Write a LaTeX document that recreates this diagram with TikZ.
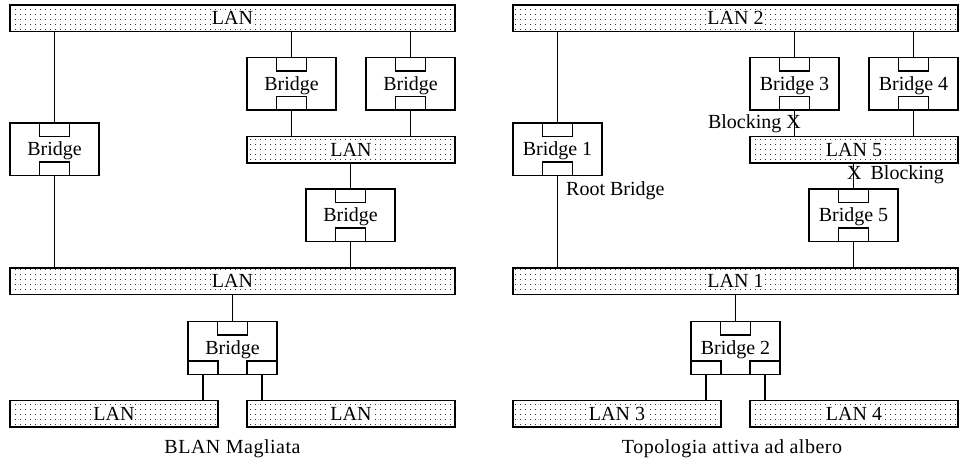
\documentclass[tikz,border=0pt]{standalone}
\usepackage{fontspec}
\setmainfont{Liberation Serif}
\usetikzlibrary{patterns}
\pgfdeclarepatternformonly{landots}{\pgfqpoint{-1pt}{-1pt}}{\pgfqpoint{6pt}{6pt}}{\pgfqpoint{5pt}{5pt}}{\pgfpathrectangle{\pgfqpoint{0pt}{0pt}}{\pgfqpoint{1.4pt}{1.4pt}}\pgfusepath{fill}}
\tikzset{
  lan/.style={draw, line width=1.5pt, pattern=landots, pattern color=black!80, minimum height=26.5pt, inner sep=0pt},
  lantext/.style={fill=white, inner sep=0.8pt, text height=13pt, text depth=0pt},
  bridge/.style={draw, line width=1.5pt, fill=white, minimum width=89pt, minimum height=52.5pt, inner sep=0pt, text height=13pt, text depth=0pt},
  port/.style={draw, line width=1.5pt, minimum width=30pt, minimum height=13.5pt, inner sep=0pt},
  wire/.style={line width=1.5pt},
  caption/.style={inner sep=0pt, anchor=base, font=\fontsize{20}{24}\selectfont\addfontfeature{LetterSpace=2.5}},
  note/.style={inner sep=0pt},
}
\begin{document}
\begin{tikzpicture}[x=1pt, y=-1pt, font=\fontsize{20}{24}\selectfont]
\useasboundingbox (0,0) rectangle (970,465);
% ---------------- left: BLAN Magliata ----------------
\node[lan, minimum width=445pt] (lanT) at (232.5,18.25) {};
\node[lantext] (lanTl) at (lanT) {LAN};
\node[bridge] (bL) at (54.5,149.5) {Bridge};
\node[port, anchor=north] (bLt) at (bL.north) {};
\node[port, anchor=south] (bLb) at (bL.south) {};
\node[bridge] (bA) at (291.5,84) {Bridge};
\node[port, anchor=north] (bAt) at (bA.north) {};
\node[port, anchor=south] (bAb) at (bA.south) {};
\node[bridge] (bB) at (410.5,84) {Bridge};
\node[port, anchor=north] (bBt) at (bB.north) {};
\node[port, anchor=south] (bBb) at (bB.south) {};
\node[lan, minimum width=208pt] (lanM) at (351,150) {};
\node[lantext] (lanMl) at (lanM) {LAN};
\node[bridge] (bC) at (350.5,215.5) {Bridge};
\node[port, anchor=north] (bCt) at (bC.north) {};
\node[port, anchor=south] (bCb) at (bC.south) {};
\node[lan, minimum width=445pt] (lanG) at (232.5,281.5) {};
\node[lantext] (lanGl) at (lanG) {LAN};
\node[bridge] (bD) at (232.5,348) {Bridge};
\node[port, anchor=north] (bDt) at (bD.north) {};
\node[port, anchor=south west] (bDl) at (bD.south west) {};
\node[port, anchor=south east] (bDr) at (bD.south east) {};
\node[lan, minimum width=208pt] (lanBL) at (114,413.5) {};
\node[lantext] (lanBLl) at (lanBL) {LAN};
\node[lan, minimum width=208pt] (lanBR) at (351,413.5) {};
\node[lantext] (lanBRl) at (lanBR) {LAN};
\node[caption] (capL) at (232.5,453) {BLAN Magliata};
\draw[wire] (bLt.north) -- (lanT.south -| bLt.north);
\draw[wire] (bLb.south) -- (lanG.north -| bLb.south);
\draw[wire] (bAt.north) -- (lanT.south -| bAt.north);
\draw[wire] (bAb.south) -- (lanM.north -| bAb.south);
\draw[wire] (bBt.north) -- (lanT.south -| bBt.north);
\draw[wire] (bBb.south) -- (lanM.north -| bBb.south);
\draw[wire] (bCt.north) -- (lanM.south -| bCt.north);
\draw[wire] (bCb.south) -- (lanG.north -| bCb.south);
\draw[wire] (bDt.north) -- (lanG.south -| bDt.north);
\draw[wire] (bDl.south) -- (lanBL.north -| bDl.south);
\draw[wire] (bDr.south) -- (lanBR.north -| bDr.south);
% ---------------- right: Topologia attiva ad albero ----------------
\node[lan, minimum width=445pt] (lan2) at (735.5,18.25) {};
\node[lantext] (lan2l) at (lan2) {LAN 2};
\node[bridge] (br1) at (557.5,149.5) {Bridge 1};
\node[port, anchor=north] (br1t) at (br1.north) {};
\node[port, anchor=south] (br1b) at (br1.south) {};
\node[bridge] (br3) at (794.5,84) {Bridge 3};
\node[port, anchor=north] (br3t) at (br3.north) {};
\node[port, anchor=south] (br3b) at (br3.south) {};
\node[bridge] (br4) at (913.5,84) {Bridge 4};
\node[port, anchor=north] (br4t) at (br4.north) {};
\node[port, anchor=south] (br4b) at (br4.south) {};
\node[lan, minimum width=208pt] (lan5) at (854,150) {};
\node[lantext] (lan5l) at (lan5) {LAN 5};
\node[bridge] (br5) at (853.5,215.5) {Bridge 5};
\node[port, anchor=north] (br5t) at (br5.north) {};
\node[port, anchor=south] (br5b) at (br5.south) {};
\node[lan, minimum width=445pt] (lan1) at (735.5,281.5) {};
\node[lantext] (lan1l) at (lan1) {LAN 1};
\node[bridge] (br2) at (735.5,348) {Bridge 2};
\node[port, anchor=north] (br2t) at (br2.north) {};
\node[port, anchor=south west] (br2l) at (br2.south west) {};
\node[port, anchor=south east] (br2r) at (br2.south east) {};
\node[lan, minimum width=208pt] (lan3) at (617,413.5) {};
\node[lantext] (lan3l) at (lan3) {LAN 3};
\node[lan, minimum width=208pt] (lan4) at (854,413.5) {};
\node[lantext] (lan4l) at (lan4) {LAN 4};
\node[caption] (capR) at (732,453) {Topologia attiva ad albero};
\draw[wire] (br1t.north) -- (lan2.south -| br1t.north);
\draw[wire] (br1b.south) -- (lan1.north -| br1b.south);
\draw[wire] (br3t.north) -- (lan2.south -| br3t.north);
\draw[wire] (br3b.south) -- (lan5.north -| br3b.south);
\draw[wire] (br4t.north) -- (lan2.south -| br4t.north);
\draw[wire] (br4b.south) -- (lan5.north -| br4b.south);
\draw[wire] (br5t.north) -- (lan5.south -| br5t.north);
\draw[wire] (br5b.south) -- (lan1.north -| br5b.south);
\draw[wire] (br2t.north) -- (lan1.south -| br2t.north);
\draw[wire] (br2l.south) -- (lan3.north -| br2l.south);
\draw[wire] (br2r.south) -- (lan4.north -| br2r.south);
\node[note, anchor=base west] (root) at (566,196) {Root Bridge};
\node[note, anchor=base east] (blk1) at (801,129) {Blocking X};
\node[note, anchor=base west] (blk2) at (847,180) {X\hspace{4pt} Blocking};
\end{tikzpicture}
\end{document}
